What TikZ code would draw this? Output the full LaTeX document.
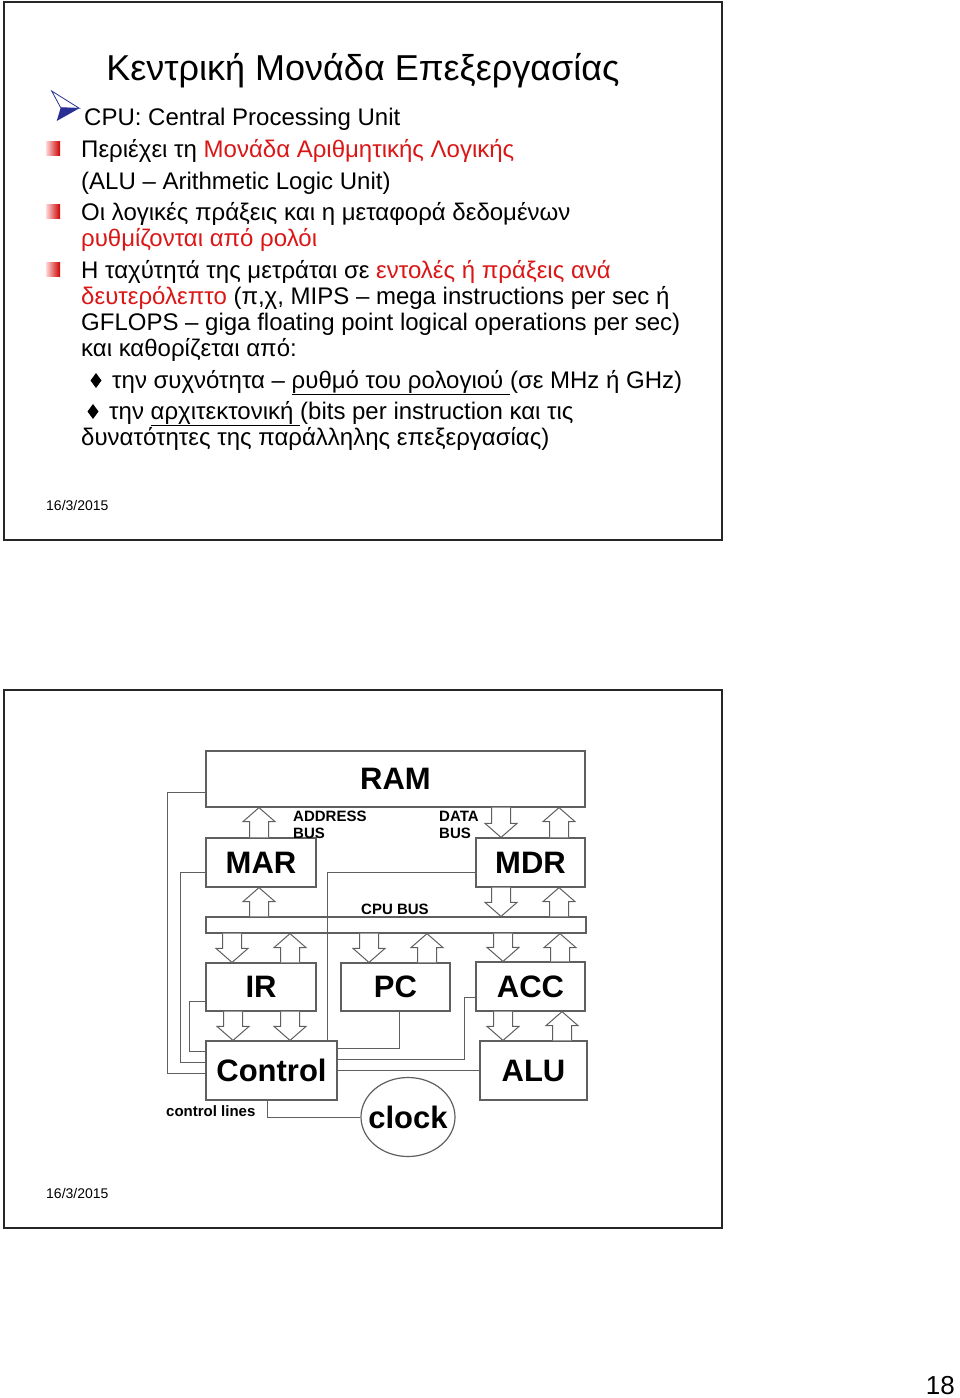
\documentclass[tikz,border=0pt]{standalone}
\usepackage{fontspec}
\setmainfont{Liberation Sans}
\usetikzlibrary{positioning,calc,shapes.geometric}
\definecolor{pptred}{RGB}{218,22,22}
\definecolor{pptblue}{RGB}{40,48,150}
\definecolor{boxgray}{RGB}{95,95,95}
\tikzset{
  slide/.style={draw=black!85,line width=2pt},
  txt/.style={anchor=base west,inner sep=0pt,font=\fontsize{24}{28}\selectfont},
  sqbul/.style={left color=red!15,right color=red!80!black},
  unit/.style={draw=boxgray,line width=1.2pt,inner sep=0pt,
    font=\fontsize{31}{32}\selectfont\bfseries},
  wire/.style={draw=boxgray,line width=1pt},
  blk/.style={draw=boxgray,fill=white,line width=1pt,line join=miter},
  tag/.style={inner sep=0pt,font=\fontsize{15}{17}\selectfont\bfseries,align=left},
  datenode/.style={anchor=base west,inner sep=0pt,font=\fontsize{14}{16}\selectfont},
}
\newcommand{\red}[1]{\textcolor{pptred}{#1}}
% hollow block arrow: column x, tail anchor, tip anchor
\newcommand{\busarrow}[3]{%
  \coordinate (cx) at (#1,0);
  \coordinate (atail) at (cx |- #2);
  \coordinate (ahead) at (cx |- #3);
  \coordinate (abase) at ($(ahead)!14pt!(atail)$);
  \draw[blk] ([xshift=-9.5pt]atail) -- ([xshift=-9.5pt]abase) -- ([xshift=-16pt]abase)
    -- (ahead) -- ([xshift=16pt]abase) -- ([xshift=9.5pt]abase) -- ([xshift=9.5pt]atail);
}
\begin{document}
\begin{tikzpicture}[x=1pt,y=-1pt]
  \useasboundingbox (0,0) rectangle (960,1398);
  % ---- slide 1: text ----
  \draw[slide] (4,2) rectangle (722,540);
  \node[inner sep=0pt,font=\fontsize{36}{40}\selectfont] (title) at (363,71)
    {Κεντρική Μονάδα Επεξεργασίας};
  \draw[draw=pptblue,line width=0.8pt,fill=white] (51.7,91) -- (79.3,108.3) -- (60.7,107.7) -- cycle;
  \fill[pptblue] (60.7,107.7) -- (79.3,108.3) -- (56.7,121) -- cycle;
  \shade[sqbul] (46,141) rectangle (60,155);
  \shade[sqbul] (46,204) rectangle (60,218);
  \shade[sqbul] (46,262) rectangle (60,276);
  \node[txt] (l1) at (84,125) {CPU: Central Processing Unit};
  \node[txt] (l2) at (81,157) {Περιέχει τη \red{Μονάδα Αριθμητικής Λογικής}};
  \node[txt] (l3) at (81,189) {(ALU – Arithmetic Logic Unit)};
  \node[txt] (l4) at (81,220) {Οι λογικές πράξεις και η μεταφορά δεδομένων};
  \node[txt] (l5) at (81,246) {\red{ρυθμίζονται από ρολόι}};
  \node[txt] (l6) at (81,278) {Η ταχύτητά της μετράται σε \red{εντολές ή πράξεις ανά}};
  \node[txt] (l7) at (81,304) {\red{δευτερόλεπτο} (π,χ, MIPS – mega instructions per sec ή};
  \node[txt] (l8) at (81,330) {GFLOPS – giga floating point logical operations per sec)};
  \node[txt] (l9) at (81,356) {και καθορίζεται από:};
  \fill (96,373) -- (101.5,380.5) -- (96,388) -- (90.5,380.5) -- cycle;
  \node[txt] (l10) at (112,388) {την συχνότητα – \underline{ρυθμό του ρολογιού\ }(σε MHz ή GHz)};
  \fill (93,404) -- (98.5,411.5) -- (93,419) -- (87.5,411.5) -- cycle;
  \node[txt] (l11) at (109,419) {την \underline{αρχιτεκτονική\ }(bits per instruction και τις};
  \node[txt] (l12) at (81,445) {δυνατότητες της παράλληλης επεξεργασίας)};
  \node[datenode] (date1) at (46,510) {16/3/2015};
  % ---- slide 2: CPU diagram ----
  \draw[slide] (4,690) rectangle (722,1228);
  \node[unit,minimum width=379pt,minimum height=56pt] (ram) at (395.5,779) {RAM};
  \node[unit,minimum width=110pt,minimum height=49pt] (mar) at (261,862.5) {MAR};
  \node[unit,minimum width=109pt,minimum height=49pt] (mdr) at (530.5,862.5) {MDR};
  \node[unit,minimum width=380pt,minimum height=16pt] (bus) at (396,925) {};
  \node[unit,minimum width=110pt,minimum height=48pt] (ir) at (261,987) {IR};
  \node[unit,minimum width=109pt,minimum height=48pt] (pc) at (395.5,987) {PC};
  \node[unit,minimum width=109pt,minimum height=49pt] (acc) at (530.5,986.5) {ACC};
  \node[unit,minimum width=131pt,minimum height=59pt] (ctl) at (271.5,1070.5) {Control};
  \node[unit,minimum width=107pt,minimum height=59pt] (alu) at (533.5,1070.5) {ALU};
  \node[unit,ellipse,minimum width=94pt,minimum height=79pt] (clk) at (408,1117) {};
  \node[inner sep=0pt,font=\fontsize{31}{32}\selectfont\bfseries] (clktxt) at (clk) {clock};
  \node[tag,anchor=west] (abus) at (293,824.5) {ADDRESS\\BUS};
  \node[tag,anchor=west] (dbus) at (439,824.5) {DATA\\BUS};
  \node[tag] (cbus) at (395,909) {CPU BUS};
  \node[tag,anchor=west] (clines) at (166,1111) {control lines};
  % control wires
  \draw[wire] ([yshift=-13pt]ram.west) -- ++(-38,0) |- ([yshift=-3pt]ctl.west);
  \draw[wire] ([yshift=-10pt]mar.west) -- ++(-25,0) |- ([yshift=8pt]ctl.west);
  \draw[wire] ([yshift=-14pt]ir.west) -- ++(-16,0) |- ([yshift=19pt]ctl.west);
  \draw[wire] ([yshift=-10pt]mdr.west) -| ([xshift=-10.5pt]ctl.north east);
  \draw[wire] ([xshift=4pt]pc.south) |- ([yshift=22pt]ctl.east);
  \draw[wire] ([yshift=-11pt]acc.west) -- ++(-11,0) |- ([yshift=11pt]ctl.east);
  \draw[wire] (ctl.east) -- (ctl.east -| alu.west);
  \draw[wire] ([xshift=-4pt]ctl.south) |- (clk.west);
  % data paths
  \busarrow{259}{mar.north}{ram.south}
  \busarrow{501}{ram.south}{mdr.north}
  \busarrow{559}{mdr.north}{ram.south}
  \busarrow{259}{bus.north}{mar.south}
  \busarrow{501}{mdr.south}{bus.north}
  \busarrow{559}{bus.north}{mdr.south}
  \busarrow{232}{bus.south}{ir.north}
  \busarrow{290}{ir.north}{bus.south}
  \busarrow{369}{bus.south}{pc.north}
  \busarrow{427}{pc.north}{bus.south}
  \busarrow{503}{bus.south}{acc.north}
  \busarrow{560}{acc.north}{bus.south}
  \busarrow{233}{ir.south}{ctl.north}
  \busarrow{290}{ir.south}{ctl.north}
  \busarrow{503}{acc.south}{alu.north}
  \busarrow{562}{alu.north}{acc.south}
  \node[datenode] (date2) at (46,1198) {16/3/2015};
  \node[anchor=base east,inner sep=0pt,font=\fontsize{26}{28}\selectfont] (pgno) at (955,1394) {18};
\end{tikzpicture}
\end{document}
